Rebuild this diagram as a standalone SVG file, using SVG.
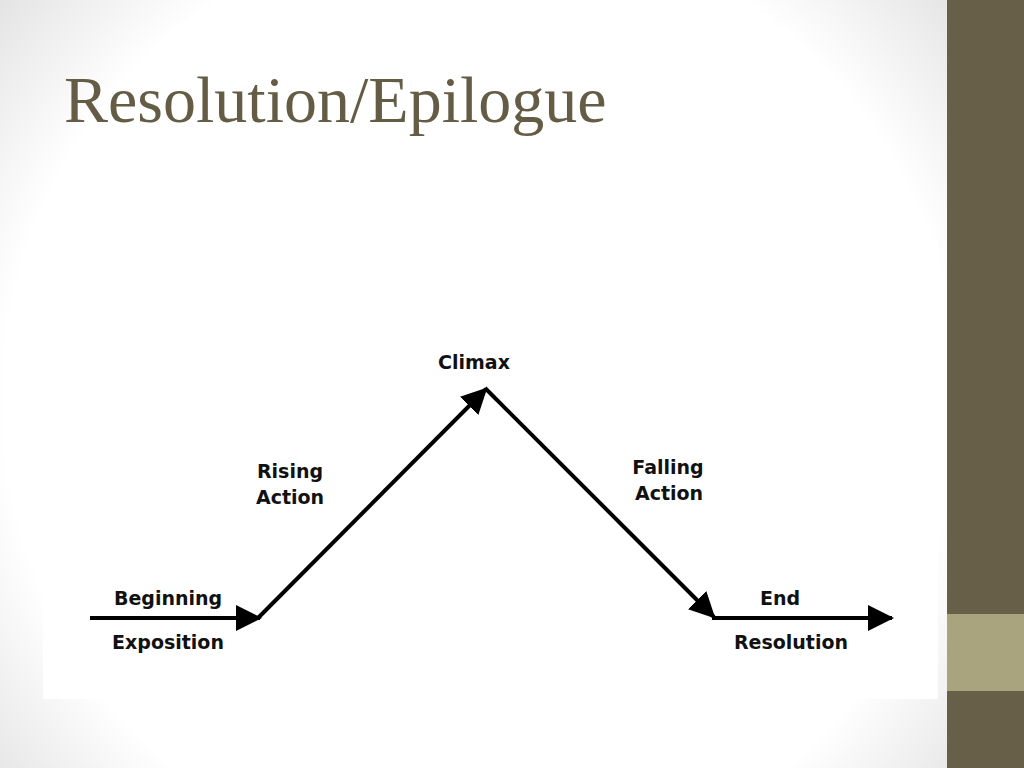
<svg xmlns="http://www.w3.org/2000/svg" width="1024" height="768" viewBox="0 0 1024 768">
  <defs>
    <radialGradient id="bg" cx="480" cy="400" r="700" gradientUnits="userSpaceOnUse">
      <stop offset="0" stop-color="#ffffff"/>
      <stop offset="0.68" stop-color="#ffffff"/>
      <stop offset="1" stop-color="#d6d6d6"/>
    </radialGradient>
    <marker id="arrow" viewBox="0 0 26 26" refX="24" refY="13" markerWidth="26" markerHeight="26" markerUnits="userSpaceOnUse" orient="auto">
      <path d="M0,0 L26,13 L0,26 Z" fill="#000"/>
    </marker>
  </defs>
  <style>
    .lbl { font-family: "DejaVu Sans", Verdana, sans-serif; font-weight: bold; font-size: 19px; fill: #111; text-anchor: middle; }
    .title { font-family: "Liberation Serif", "Times New Roman", serif; font-size: 66px; fill: #645c45; }
    .conn { stroke: #000; stroke-width: 4; fill: none; }
  </style>
  <rect x="0" y="0" width="1024" height="768" fill="url(#bg)"/>
  <rect x="947" y="0" width="77" height="768" fill="#675f48"/>
  <rect x="947" y="614" width="77" height="77" fill="#a9a47d"/>
  <rect x="43" y="240" width="895" height="459" fill="#ffffff"/>
  <text class="title" x="64" y="122">Resolution/Epilogue</text>
  <g id="connectors">
    <line class="conn" x1="90" y1="618" x2="260" y2="618" marker-end="url(#arrow)"/>
    <line class="conn" x1="258" y1="618" x2="486" y2="389" marker-end="url(#arrow)"/>
    <line class="conn" x1="485" y1="388" x2="714" y2="617" marker-end="url(#arrow)"/>
    <line class="conn" x1="712" y1="618" x2="892" y2="618" marker-end="url(#arrow)"/>
  </g>
  <g id="climax"><text class="lbl" x="474" y="369">Climax</text></g>
  <g id="rising"><text class="lbl" x="290" y="478">Rising</text><text class="lbl" x="290" y="504">Action</text></g>
  <g id="falling"><text class="lbl" x="668" y="474">Falling</text><text class="lbl" x="669" y="500">Action</text></g>
  <g id="beginning"><text class="lbl" x="168" y="605">Beginning</text><text class="lbl" x="168" y="649">Exposition</text></g>
  <g id="end"><text class="lbl" x="780" y="605">End</text><text class="lbl" x="791" y="649">Resolution</text></g>
</svg>
